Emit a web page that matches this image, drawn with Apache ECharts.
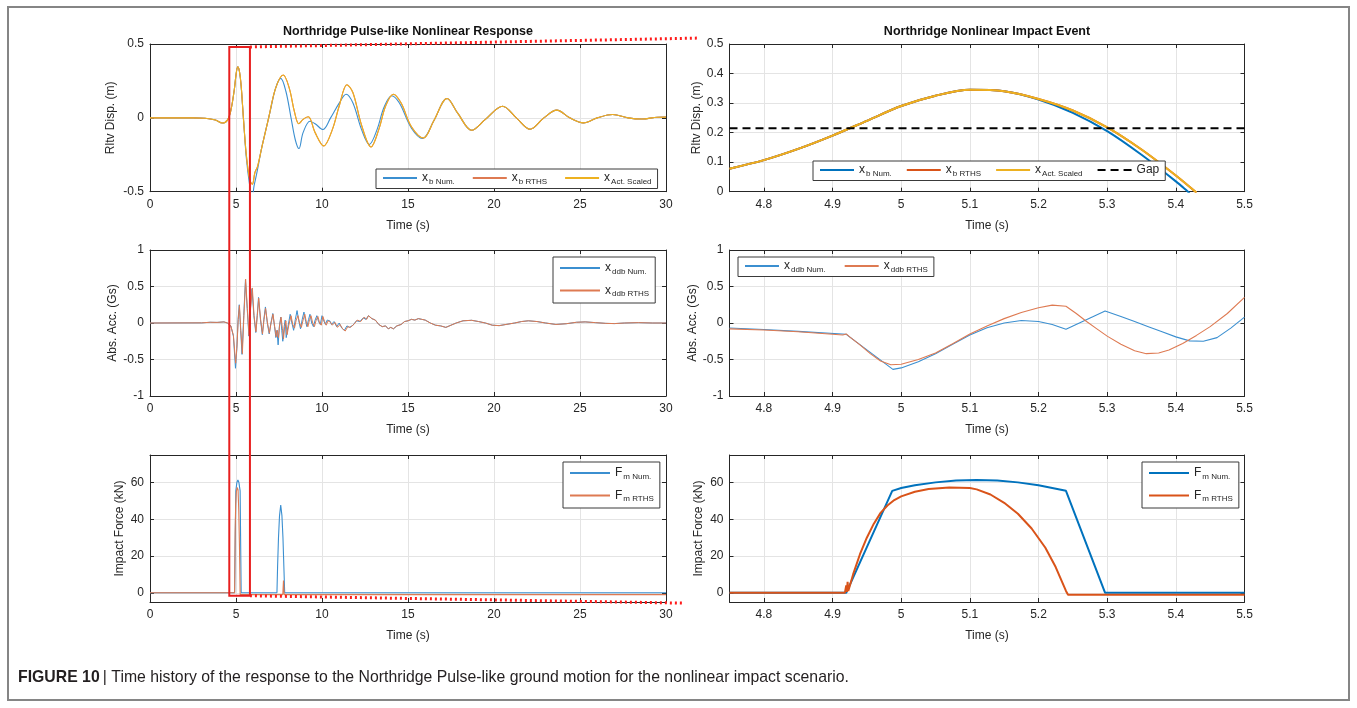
<!DOCTYPE html>
<html><head><meta charset="utf-8">
<script src="https://cdn.jsdelivr.net/npm/echarts@6/dist/echarts.min.js"></script>
<style>html,body{margin:0;padding:0;background:#fff}#c{width:1357px;height:708px}</style>
</head><body><div id="c"></div>
<script>
// ---------- DATA ----------
const leftTimeTicks = [0, 5, 10, 15, 20, 25, 30];
const rightTimeTicks = [4.8, 4.9, 5.0, 5.1, 5.2, 5.3, 5.4, 5.5];
const forceTicks = [0, 20, 40, 60];

// Left column: full record (t [s], value)
const dispNumL = [[0,0],[2.5,0],[3.2,-0.003],[3.8,-0.015],[4.2,-0.035],[4.5,-0.015],[4.7,0.05],[4.9,0.19],[5.0,0.29],[5.1,0.345],[5.2,0.314],[5.3,0.21],[5.43,0.0],[5.6,-0.27],[5.8,-0.46],[5.95,-0.53],[6.05,-0.46],[6.2,-0.38],[6.5,-0.2],[7.0,0.05],[7.3,0.2],[7.6,0.267],[7.9,0.18],[8.2,0.0],[8.45,-0.15],[8.66,-0.208],[8.9,-0.1],[9.3,-0.023],[9.6,-0.04],[10.05,-0.079],[10.5,0.0],[11.0,0.1],[11.4,0.16],[11.8,0.1],[12.3,-0.08],[12.75,-0.18],[13.2,-0.08],[13.6,0.07],[14.05,0.15],[14.5,0.1],[15.2,-0.07],[15.85,-0.14],[16.5,-0.02],[17.27,0.131],[17.9,0.03],[18.7,-0.084],[19.5,-0.01],[20.5,0.079],[21.3,0.0],[22.1,-0.077],[22.9,0.0],[23.65,0.052],[24.4,0.0],[25.2,-0.034],[26.0,0.0],[26.9,0.023],[27.8,0.0],[28.6,-0.008],[29.5,0.004],[30,0.005]];
const dispRTHSL = [[0,0],[2.5,0],[3.2,-0.003],[3.8,-0.015],[4.2,-0.035],[4.5,-0.015],[4.7,0.05],[4.9,0.19],[5.0,0.29],[5.1,0.345],[5.2,0.314],[5.3,0.22],[5.43,0.0],[5.6,-0.25],[5.8,-0.42],[5.95,-0.45],[6.1,-0.37],[6.25,-0.33],[6.5,-0.2],[6.9,0.0],[7.3,0.2],[7.75,0.29],[8.1,0.2],[8.4,0.04],[8.65,-0.04],[8.9,-0.01],[9.2,0.007],[9.6,-0.1],[10.1,-0.19],[10.6,-0.08],[11.0,0.08],[11.45,0.224],[11.8,0.17],[12.3,-0.05],[12.85,-0.197],[13.3,-0.08],[13.7,0.08],[14.15,0.16],[14.6,0.1],[15.2,-0.06],[15.9,-0.136],[16.5,-0.02],[17.27,0.131],[17.9,0.03],[18.7,-0.084],[19.5,-0.01],[20.5,0.079],[21.3,0.0],[22.1,-0.077],[22.9,0.0],[23.65,0.052],[24.4,0.0],[25.2,-0.034],[26.0,0.0],[26.9,0.023],[27.8,0.0],[28.6,-0.008],[29.5,0.004],[30,0.005]];
const dispActL = [[0,0],[2.5,0],[3.2,-0.003],[3.8,-0.015],[4.2,-0.035],[4.5,-0.015],[4.7,0.05],[4.9,0.19],[5.0,0.29],[5.1,0.345],[5.2,0.314],[5.3,0.22],[5.43,0.0],[5.6,-0.25],[5.8,-0.42],[5.95,-0.45],[6.1,-0.37],[6.25,-0.33],[6.5,-0.2],[6.9,0.0],[7.3,0.2],[7.75,0.29],[8.1,0.2],[8.4,0.04],[8.65,-0.04],[8.9,-0.01],[9.2,0.007],[9.6,-0.1],[10.1,-0.19],[10.6,-0.08],[11.0,0.08],[11.45,0.224],[11.8,0.17],[12.3,-0.05],[12.85,-0.197],[13.3,-0.08],[13.7,0.08],[14.15,0.16],[14.6,0.1],[15.2,-0.06],[15.9,-0.136],[16.5,-0.02],[17.27,0.131],[17.9,0.03],[18.7,-0.084],[19.5,-0.01],[20.5,0.079],[21.3,0.0],[22.1,-0.077],[22.9,0.0],[23.65,0.052],[24.4,0.0],[25.2,-0.034],[26.0,0.0],[26.9,0.023],[27.8,0.0],[28.6,-0.008],[29.5,0.004],[30,0.005]];

const accNumHead = [[0,0],[3.0,0.002],[3.5,0.01],[3.9,0.008],[4.3,0.015],[4.5,0.0],[4.7,-0.04],[4.85,-0.18],[4.97,-0.62],[5.05,-0.35],[5.12,0.05],[5.19,0.25],[5.27,-0.1],[5.35,-0.43],[5.45,0.1],[5.55,0.59],[5.65,0.2],[5.75,-0.18],[5.84,0.2],[5.93,0.47],[6.04,0.1],[6.15,-0.13],[6.23,0.1],[6.31,0.35],[6.42,0.05],[6.53,-0.16],[6.62,0.05],[6.71,0.22],[6.82,0.0],[6.93,-0.15],[7.03,0.0],[7.14,0.13],[7.24,-0.05],[7.32,-0.2],[7.38,-0.1],[7.45,-0.3],[7.52,-0.05],[7.6,0.08],[7.66,-0.1],[7.72,-0.25],[7.8,-0.05],[7.86,0.04],[7.92,-0.2],[8.02,-0.05],[8.15,0.12],[8.25,0.0],[8.35,-0.1],[8.45,0.05],[8.55,0.17],[8.65,0.03],[8.75,-0.08],[8.85,0.05],[8.95,0.15],[9.05,0.02],[9.12,-0.05],[9.22,0.05],[9.3,0.12],[9.4,0.0],[9.5,-0.05],[9.6,0.04],[9.7,0.1],[9.8,0.02],[9.9,-0.02],[10.0,0.1],[10.1,0.03],[10.2,-0.02],[10.3,0.04],[10.45,0.03],[10.55,-0.02],[10.7,0.02],[10.85,-0.05],[11.0,0.0],[11.15,-0.07],[11.3,-0.1],[11.45,-0.04],[11.6,-0.06],[11.8,-0.03],[12.0,0.03],[12.2,0.02],[12.4,0.07],[12.55,0.05]];
const accRTHSHead = [[0,0],[3.0,0.002],[3.5,0.01],[3.9,0.008],[4.3,0.015],[4.5,0.0],[4.7,-0.04],[4.85,-0.17],[4.98,-0.55],[5.06,-0.3],[5.13,0.05],[5.2,0.24],[5.28,-0.1],[5.37,-0.42],[5.46,0.1],[5.56,0.6],[5.66,0.2],[5.76,-0.17],[5.85,0.2],[5.95,0.48],[6.05,0.1],[6.16,-0.12],[6.24,0.1],[6.32,0.34],[6.43,0.05],[6.54,-0.15],[6.63,0.05],[6.72,0.2],[6.83,0.0],[6.94,-0.14],[7.04,0.0],[7.15,0.12],[7.25,-0.05],[7.34,-0.19],[7.4,-0.1],[7.47,-0.2],[7.54,-0.02],[7.62,0.08],[7.7,-0.08],[7.76,-0.22],[7.83,-0.05],[7.9,0.03],[7.97,-0.16],[8.07,-0.03],[8.2,0.1],[8.3,-0.02],[8.4,-0.07],[8.5,0.04],[8.6,0.1],[8.7,0.0],[8.8,-0.06],[8.9,0.04],[9.0,0.12],[9.1,0.0],[9.18,-0.05],[9.28,0.05],[9.36,0.1],[9.46,0.0],[9.56,-0.05],[9.66,0.04],[9.76,0.09],[9.86,0.0],[9.96,-0.03],[10.05,0.09],[10.15,0.02],[10.25,-0.03],[10.35,0.03],[10.5,0.01],[10.6,-0.03],[10.75,0.01],[10.9,-0.06],[11.05,-0.02],[11.2,-0.08],[11.35,-0.11],[11.5,-0.05],[11.65,-0.06],[11.85,-0.02],[12.05,0.04],[12.25,0.02],[12.45,0.08],[12.6,0.05]];
const accTail = [[12.7,0.1],[12.9,0.06],[13.1,0.04],[13.3,-0.02],[13.5,-0.05],[13.7,-0.04],[13.85,-0.08],[14.0,-0.06],[14.15,-0.08],[14.35,-0.04],[14.6,-0.02],[14.8,0.02],[15.0,0.03],[15.2,0.05],[15.4,0.04],[15.6,0.06],[15.8,0.05],[16.0,0.04],[16.3,0.0],[16.6,-0.03],[16.9,-0.04],[17.2,-0.06],[17.5,-0.03],[17.8,0.0],[18.2,0.03],[18.7,0.037],[19.1,0.02],[19.5,0.0],[19.9,-0.03],[20.3,-0.036],[20.7,-0.02],[21.2,0.0],[21.6,0.02],[22.0,0.03],[22.5,0.02],[23.0,0.0],[23.6,-0.02],[24.2,-0.01],[24.8,0.01],[25.3,0.015],[25.9,0.005],[26.5,-0.005],[27.0,-0.008],[27.6,0.0],[28.4,0.005],[29.2,0.0],[30,0]];

const forceNumL = [[0,0],[4.92,0],[4.99,55.5],[5.05,60],[5.11,61.4],[5.17,60],[5.24,55.5],[5.3,0],[7.38,0],[7.42,15],[7.47,30],[7.53,42],[7.6,47.8],[7.67,42],[7.73,30],[7.78,15],[7.83,0],[30,0]];
const forceRTHSL = [[0,0],[4.92,0],[4.95,33],[4.98,48],[5.02,55],[5.07,57.3],[5.12,56],[5.16,45],[5.2,26],[5.242,-1],[7.72,-1],[7.76,6.7],[7.8,-1],[30,-1]];

// Right column: impact event zoom (4.75 - 5.5 s)
const dispNumR = [[4.75,0.078],[4.8,0.107],[4.85,0.145],[4.9,0.19],[4.95,0.24],[5.0,0.29],[5.05,0.325],[5.1,0.345],[5.15,0.34],[5.2,0.312],[5.25,0.267],[5.3,0.205],[5.35,0.125],[5.4,0.035],[5.42,-0.005]];
const dispRTHSR = [[4.75,0.078],[4.8,0.107],[4.85,0.145],[4.9,0.19],[4.95,0.24],[5.0,0.29],[5.05,0.325],[5.1,0.345],[5.15,0.34],[5.2,0.314],[5.25,0.275],[5.3,0.218],[5.35,0.143],[5.4,0.055],[5.43,-0.003]];
const dispActR = [[4.75,0.078],[4.8,0.107],[4.85,0.145],[4.9,0.19],[4.95,0.24],[5.0,0.29],[5.05,0.325],[5.1,0.345],[5.15,0.34],[5.2,0.314],[5.25,0.275],[5.3,0.218],[5.35,0.143],[5.4,0.055],[5.43,-0.003]];
const gapLine = [[4.75,0.215],[5.5,0.215]];

const accNumR = [[4.75,-0.068],[4.8,-0.09],[4.85,-0.115],[4.92,-0.155],[4.988,-0.635],[5.0,-0.615],[5.025,-0.53],[5.05,-0.42],[5.075,-0.29],[5.1,-0.165],[5.125,-0.065],[5.15,0.0],[5.175,0.035],[5.2,0.02],[5.22,-0.02],[5.24,-0.087],[5.297,0.164],[5.32,0.09],[5.34,0.02],[5.36,-0.05],[5.38,-0.12],[5.4,-0.19],[5.42,-0.245],[5.44,-0.25],[5.46,-0.2],[5.48,-0.07],[5.5,0.08]];
const accRTHSR = [[4.75,-0.08],[4.8,-0.095],[4.85,-0.12],[4.915,-0.165],[4.92,-0.15],[4.925,-0.19],[4.94,-0.3],[4.955,-0.42],[4.97,-0.52],[4.985,-0.572],[5.0,-0.565],[5.025,-0.5],[5.05,-0.41],[5.075,-0.285],[5.1,-0.15],[5.125,-0.04],[5.15,0.06],[5.175,0.145],[5.2,0.21],[5.22,0.245],[5.24,0.23],[5.255,0.13],[5.27,0.02],[5.285,-0.08],[5.3,-0.18],[5.32,-0.29],[5.34,-0.38],[5.357,-0.42],[5.375,-0.41],[5.39,-0.37],[5.41,-0.28],[5.43,-0.17],[5.45,-0.05],[5.475,0.13],[5.5,0.35]];

const forceNumR = [[4.75,0],[4.92,0],[4.987,55.5],[5.0,57.0],[5.02,58.5],[5.05,60.1],[5.08,61.1],[5.11,61.4],[5.14,61.1],[5.17,60.1],[5.2,58.5],[5.22,57.0],[5.24,55.5],[5.297,0],[5.5,0]];
const forceRTHSR = [[4.75,0],[4.918,0],[4.92,4],[4.921,0.5],[4.922,6],[4.923,1],[4.93,10],[4.94,21],[4.95,30],[4.96,37.5],[4.97,43.5],[4.98,47.5],[4.99,50.5],[5.0,52.5],[5.02,55],[5.04,56.5],[5.07,57.3],[5.1,57],[5.11,56.3],[5.13,53.5],[5.15,49],[5.17,43],[5.19,35],[5.21,24.5],[5.225,14],[5.24,1],[5.243,-1],[5.5,-1]];

// annotation anchor values (data units of the left/right panels)
const zoomBox = {t0: 4.61, t1: 5.81, top: 0.48, bottom: -1.6};
const zoomLinkTop = {t: 4.703, v: 0.52};
const zoomLinkBottom = {t: 4.682, v: -5.6};

// ---------- STYLE ----------
const FF = 'Liberation Sans, Arial, sans-serif';
const AX = '#262626';
const BLUE = '#0072BD', ORANGE = '#D95319', YELLOW = '#EDB120';
const BLUE_T = '#3b8fd0', ORANGE_T = '#de7a52';

const grids = [
  {left:150, top:44, width:516, height:147.7},
  {left:150, top:250, width:516, height:146},
  {left:150, top:455, width:516, height:147},
  {left:729.5, top:44, width:515, height:147.7},
  {left:729.5, top:250, width:515, height:146},
  {left:729.5, top:455, width:515, height:147}
];

function xMain(gi, o) {
  return Object.assign({
    type:'value', gridIndex:gi, position:'bottom',
    axisLine:{show:true, onZero:false, lineStyle:{color:AX, width:1}},
    axisTick:{show:true, inside:true, length:4, lineStyle:{color:AX}},
    axisLabel:{color:AX, fontSize:12, margin:7, fontFamily:FF},
    splitLine:{show:true, lineStyle:{color:'#e4e4e4', width:1}},
    name:'Time (s)', nameLocation:'middle', nameGap:28,
    nameTextStyle:{color:AX, fontSize:12, fontFamily:FF}
  }, o);
}
function yMain(gi, name, gap, o) {
  return Object.assign({
    type:'value', gridIndex:gi, position:'left',
    axisLine:{show:true, onZero:false, lineStyle:{color:AX, width:1}},
    axisTick:{show:true, inside:true, length:4, lineStyle:{color:AX}},
    axisLabel:{color:AX, fontSize:12, margin:6, fontFamily:FF},
    splitLine:{show:true, lineStyle:{color:'#e4e4e4', width:1}},
    name:name, nameLocation:'middle', nameGap:gap,
    nameTextStyle:{color:AX, fontSize:12, fontFamily:FF}
  }, o);
}
function mirror(base, pos) {
  return Object.assign({}, base, {
    position:pos, name:'', axisLabel:{show:false},
    splitLine:{show:false},
    axisTick: Object.assign({}, base.axisTick)
  });
}

const xL = {min:0, max:30, interval:5};
const xR = {min:4.75, max:5.5, axisTick:{show:true, inside:true, length:4, lineStyle:{color:AX}, customValues:rightTimeTicks}, axisLabel:{color:AX, fontSize:12, margin:7, fontFamily:FF, customValues:rightTimeTicks}};
const yF = {min:-5, max:75, axisTick:{show:true, inside:true, length:4, lineStyle:{color:AX}, customValues:forceTicks}, axisLabel:{color:AX, fontSize:12, margin:6, fontFamily:FF, customValues:forceTicks}};

const xBottom = [xMain(0,xL), xMain(1,xL), xMain(2,xL), xMain(3,xR), xMain(4,xR), xMain(5,xR)];
const yLeft = [
  yMain(0,'Rltv Disp. (m)',33,{min:-0.5,max:0.5,interval:0.5}),
  yMain(1,'Abs. Acc. (Gs)',31,{min:-1,max:1,interval:0.5}),
  yMain(2,'Impact Force (kN)',24,yF),
  yMain(3,'Rltv Disp. (m)',27,{min:0,max:0.5,interval:0.1}),
  yMain(4,'Abs. Acc. (Gs)',30,{min:-1,max:1,interval:0.5}),
  yMain(5,'Impact Force (kN)',25,yF)
];
const xAxes = xBottom.concat(xBottom.map(a => mirror(a,'top')));
const yAxes = yLeft.concat(yLeft.map(a => mirror(a,'right')));

function ln(name, gi, data, color, width, extra) {
  return Object.assign({
    type:'line', name:name, xAxisIndex:gi, yAxisIndex:gi, data:data,
    symbol:'none', showSymbol:false, animation:false,
    lineStyle:{color:color, width:width}, itemStyle:{color:color}
  }, extra || {});
}

const series = [
  ln('TL_Num',0,dispNumL,BLUE_T,1.1,{smooth:0.35}),
  ln('TL_RTHS',0,dispRTHSL,ORANGE_T,1.1,{smooth:0.35}),
  ln('TL_Act',0,dispActL,YELLOW,1.1,{smooth:0.35}),
  ln('ML_Num',1,accNumHead.concat(accTail),BLUE_T,1),
  ln('ML_RTHS',1,accRTHSHead.concat(accTail),ORANGE_T,1),
  ln('BL_Num',2,forceNumL,BLUE_T,1.1),
  ln('BL_RTHS',2,forceRTHSL,ORANGE_T,1.1),
  ln('TR_Num',3,dispNumR,BLUE,2,{smooth:0.3}),
  ln('TR_RTHS',3,dispRTHSR,ORANGE,2,{smooth:0.3}),
  ln('TR_Act',3,dispActR,YELLOW,2,{smooth:0.3}),
  ln('TR_Gap',3,gapLine,'#000',2,{lineStyle:{color:'#000', width:2, type:[8,5]}}),
  ln('MR_Num',4,accNumR,BLUE_T,1.1),
  ln('MR_RTHS',4,accRTHSR,ORANGE_T,1.1),
  ln('BR_Num',5,forceNumR,BLUE,2),
  ln('BR_RTHS',5,forceRTHSR,ORANGE,2)
];

const labelMap = {
  TL_Num:'{m|x}{s|b Num.}', TL_RTHS:'{m|x}{s|b RTHS}', TL_Act:'{m|x}{s|Act. Scaled}',
  TR_Num:'{m|x}{s|b Num.}', TR_RTHS:'{m|x}{s|b RTHS}', TR_Act:'{m|x}{s|Act. Scaled}', TR_Gap:'{m|Gap}',
  ML_Num:'{m|x}{s|ddb Num.}', ML_RTHS:'{m|x}{s|ddb RTHS}',
  MR_Num:'{m|x}{s|ddb Num.}', MR_RTHS:'{m|x}{s|ddb RTHS}',
  BL_Num:'{m|F}{s|m Num.}', BL_RTHS:'{m|F}{s|m RTHS}',
  BR_Num:'{m|F}{s|m Num.}', BR_RTHS:'{m|F}{s|m RTHS}'
};
function lg(data, left, top, orient, gap, itemW, pad) {
  return {
    data:data, left:left, top:top, orient:orient, itemGap:gap,
    itemWidth:itemW, itemHeight:10, selectedMode:false,
    backgroundColor:'#fff', borderColor:'#3a3a3a', borderWidth:1,
    padding: pad || [3,6,3,6],
    itemStyle:{opacity:0},
    formatter: n => labelMap[n],
    textStyle:{color:AX, fontFamily:FF, fontSize:12,
      rich:{m:{fontSize:12, color:AX, fontFamily:FF}, s:{fontSize:8, color:AX, fontFamily:FF, padding:[7,0,0,1]}}}
  };
}
const legends = [
  lg(['TL_Num','TL_RTHS','TL_Act'], 376, 169, 'horizontal', 17, 34),
  lg(['TR_Num','TR_RTHS','TR_Act','TR_Gap'], 813, 161, 'horizontal', 14, 34),
  lg(['ML_Num','ML_RTHS'], 553, 257, 'vertical', 9, 40, [5,6,5,6]),
  lg(['MR_Num','MR_RTHS'], 738, 257, 'horizontal', 18, 34),
  lg(['BL_Num','BL_RTHS'], 563, 462, 'vertical', 9, 40, [5,6,5,6]),
  lg(['BR_Num','BR_RTHS'], 1142, 462, 'vertical', 9, 40, [5,6,5,6])
];

const chart = echarts.init(document.getElementById('c'), null, {renderer:'canvas'});
chart.setOption({
  animation:false,
  backgroundColor:'#fff',
  grid: grids.map(g => Object.assign({containLabel:false}, g)),
  xAxis: xAxes, yAxis: yAxes, series: series, legend: legends
});

// ---------- annotations (titles, zoom box, caption, frame) ----------
const pTL = chart.convertToPixel({gridIndex:0}, [zoomBox.t0, zoomBox.top]);
const pTR = chart.convertToPixel({gridIndex:0}, [zoomBox.t1, zoomBox.top]);
const pBL = chart.convertToPixel({gridIndex:2}, [zoomBox.t0, zoomBox.bottom]);
const pBR = chart.convertToPixel({gridIndex:2}, [zoomBox.t1, zoomBox.bottom]);
const eTop = chart.convertToPixel({gridIndex:3}, [zoomLinkTop.t, zoomLinkTop.v]);
const eBot = chart.convertToPixel({gridIndex:5}, [zoomLinkBottom.t, zoomLinkBottom.v]);
const cL = chart.convertToPixel({gridIndex:0}, [15, 0.5]);
const cR = chart.convertToPixel({gridIndex:3}, [5.125, 0.5]);

chart.setOption({
  graphic: [
    {type:'rect', shape:{x:8, y:7, width:1341, height:693}, style:{fill:'none', stroke:'#858585', lineWidth:2}, silent:true},
    {type:'text', x:cL[0], y:cL[1]-12, style:{text:'Northridge Pulse-like Nonlinear Response', font:'bold 12.5px Liberation Sans, Arial', fill:'#111', textAlign:'center', textVerticalAlign:'middle'}},
    {type:'text', x:cR[0], y:cR[1]-12, style:{text:'Northridge Nonlinear Impact Event', font:'bold 12.5px Liberation Sans, Arial', fill:'#111', textAlign:'center', textVerticalAlign:'middle'}},
    {type:'polyline', shape:{points:[[pTR[0], pTR[1]], [eTop[0], eTop[1]]]}, style:{stroke:'#ff1a1a', lineWidth:3, lineDash:[2,3], fill:null}, z:100},
    {type:'polyline', shape:{points:[[pBR[0], pBR[1]], [eBot[0], eBot[1]]]}, style:{stroke:'#ff1a1a', lineWidth:3, lineDash:[2,3], fill:null}, z:100},
    {type:'rect', shape:{x:pTL[0], y:pTL[1], width:pTR[0]-pTL[0], height:pBL[1]-pTL[1]}, style:{fill:'none', stroke:'#e81f1f', lineWidth:2}, z:100},
    {type:'text', x:18, y:677, scaleX:0.93, style:{text:'{b|FIGURE 10} {r|| Time history of the response to the Northridge Pulse-like ground motion for the nonlinear impact scenario.}', textVerticalAlign:'middle',
      rich:{b:{font:'bold 17px Liberation Sans, Arial', fill:'#231f20'}, r:{font:'17px Liberation Sans, Arial', fill:'#231f20'}}}}
  ]
});
</script></body></html>
